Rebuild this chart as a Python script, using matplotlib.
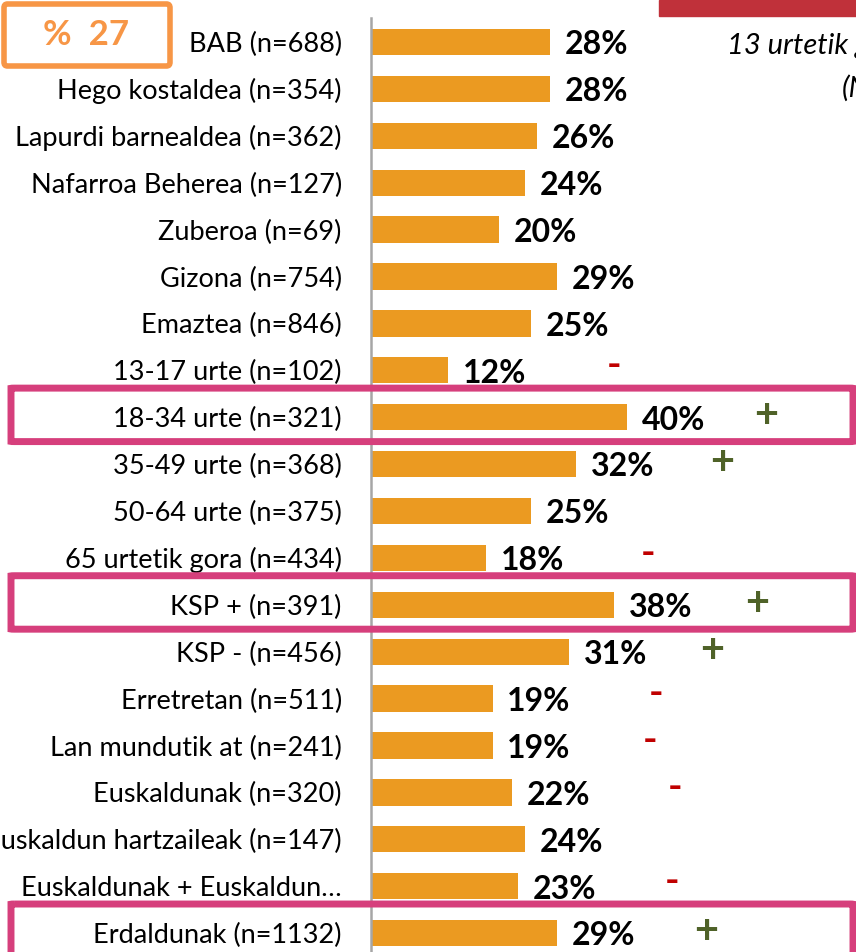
import matplotlib.pyplot as plt
from matplotlib.patches import Rectangle, FancyBboxPatch
import matplotlib.transforms as mtransforms

plt.rcParams['font.family'] = ['Lato', 'DejaVu Sans']

categories = [
    'BAB (n=688)', 'Hego kostaldea (n=354)', 'Lapurdi barnealdea (n=362)',
    'Nafarroa Beherea (n=127)', 'Zuberoa (n=69)', 'Gizona (n=754)',
    'Emaztea (n=846)', '13-17 urte (n=102)', '18-34 urte (n=321)',
    '35-49 urte (n=368)', '50-64 urte (n=375)', '65 urtetik gora (n=434)',
    'KSP + (n=391)', 'KSP - (n=456)', 'Erretretan (n=511)',
    'Lan mundutik at (n=241)', 'Euskaldunak (n=320)',
    'Euskaldun hartzaileak (n=147)', 'Euskaldunak + Euskaldun\u2026',
    'Erdaldunak (n=1132)',
]
values = [28, 28, 26, 24, 20, 29, 25, 12, 40, 32, 25, 18, 38, 31, 19, 19, 22, 24, 23, 29]
# significance vs. total: '+' above, '-' below, '' none
signs = ['', '', '', '', '', '', '', '-', '+', '+', '', '-', '+', '+', '-', '-', '-', '', '-', '+']
sign_x = [0, 0, 0, 0, 0, 0, 0, 38.0, 61.7, 54.8, 0, 43.3, 60.3, 53.3, 44.5, 43.6, 47.5, 0, 47.0, 52.3]
highlight_rows = [8, 12, 19]
total_label = '%  27'

W, H = 856, 952
fig = plt.figure(figsize=(W / 100, H / 100), dpi=100)

x0 = 371          # px where bars start
px_per_pct = 6.4
row0 = 42         # px centre of first row
row_step = 46.9

ax = fig.add_axes([x0 / W, 0, (W - x0) / W, 1])
ax.set_xlim(0, (W - x0) / px_per_pct)
ax.set_ylim((H - row0) / row_step, -row0 / row_step)

ypos = list(range(len(categories)))
ax.barh(ypos, values, height=0.56, color='#EB9A21', zorder=2)

for y, v in zip(ypos, values):
    ax.text(v + 2.3, y + 0.06, f'{v}%', ha='left', va='center',
            fontsize=23, fontweight='bold', color='black')

for y, s, sx in zip(ypos, signs, sign_x):
    if s == '+':
        ax.text(sx, y - 0.02, '+', ha='center', va='center', fontsize=30,
                fontweight='bold', color='#4F6228')
    elif s == '-':
        ax.text(sx, y - 0.1, '-', ha='center', va='center', fontsize=28,
                fontweight='bold', color='#C00000')

ax.set_yticks(ypos)
ax.set_yticklabels(categories, fontsize=19.5)
ax.tick_params(axis='y', length=0, pad=21)
ax.set_xticks([])
for side in ['top', 'right', 'bottom']:
    ax.spines[side].set_visible(False)
ax.spines['left'].set_color('#A6A6A6')
ax.spines['left'].set_linewidth(1.8)
ax.spines['left'].set_bounds((18 - row0) / row_step, (H - row0) / row_step)

# highlight frames spanning the full width
trans = mtransforms.blended_transform_factory(fig.transFigure, ax.transData)
for r in highlight_rows:
    box = FancyBboxPatch((11 / W, r - 0.62), (853 - 11) / W, 1.14,
                         boxstyle='round,pad=0,rounding_size=0.004',
                         transform=trans, fill=False, edgecolor='#D63F7C',
                         linewidth=5, clip_on=False, zorder=5)
    fig.patches.append(box)

# total box top-left
fig.patches.append(FancyBboxPatch((4 / W, 1 - 66 / H), 166 / W, 62 / H,
                                  boxstyle='round,pad=0,rounding_size=0.004',
                                  transform=fig.transFigure, fill=False,
                                  edgecolor='#F79646', linewidth=4))
fig.text(86 / W, 1 - 35 / H, total_label, ha='center', va='center',
         fontsize=25, fontweight='bold', color='#F79646')

# red band and title at the top right
fig.patches.append(Rectangle((659 / W, 1 - 16 / H), (W - 659) / W, 16 / H,
                             transform=fig.transFigure, color='#C0313A'))
fig.text(727 / W, 1 - 46 / H, '13 urtetik gorakoak', ha='left', va='center',
         fontsize=21, style='italic', color='black')
fig.text(842 / W, 1 - 88 / H, '(N=1600)', ha='left', va='center',
         fontsize=21, style='italic', color='black')

fig.savefig('out.png', dpi=100)
